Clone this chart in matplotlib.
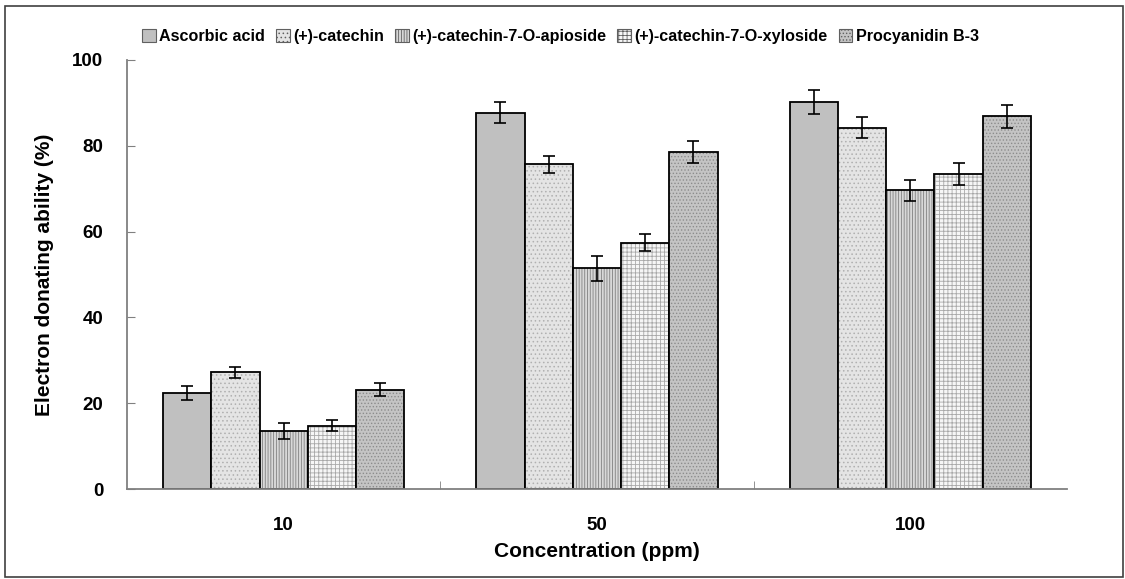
import numpy as np
import matplotlib
matplotlib.use("Agg")
import matplotlib.pyplot as plt
from matplotlib.patches import Rectangle

plt.rcParams["font.family"] = ["Liberation Sans", "DejaVu Sans"]
plt.rcParams["font.weight"] = "bold"
plt.rcParams["hatch.linewidth"] = 0.6

# electron donating ability (%) by concentration
concentrations = ["10", "50", "100"]
compounds = ["Ascorbic acid", "(+)-catechin", "(+)-catechin-7-O-apioside",
             "(+)-catechin-7-O-xyloside", "Procyanidin B-3"]
means = {
    "Ascorbic acid":             [22.3, 87.7, 90.3],
    "(+)-catechin":              [27.2, 75.7, 84.2],
    "(+)-catechin-7-O-apioside": [13.5, 51.4, 69.6],
    "(+)-catechin-7-O-xyloside": [14.8, 57.4, 73.5],
    "Procyanidin B-3":           [23.1, 78.6, 86.9],
}
errors = {
    "Ascorbic acid":             [1.6, 2.5, 2.8],
    "(+)-catechin":              [1.3, 2.0, 2.5],
    "(+)-catechin-7-O-apioside": [1.9, 3.0, 2.5],
    "(+)-catechin-7-O-xyloside": [1.3, 2.0, 2.6],
    "Procyanidin B-3":           [1.5, 2.6, 2.7],
}

styles = {
    "Ascorbic acid":             dict(facecolor="#c0c0c0", hatch=None, hc="#c0c0c0"),
    "(+)-catechin":              dict(facecolor="#e4e4e4", hatch="....", hc="#b0b0b0"),
    "(+)-catechin-7-O-apioside": dict(facecolor="#d8d8d8", hatch="||||||", hc="#808080"),
    "(+)-catechin-7-O-xyloside": dict(facecolor="#f6f6f6", hatch="++++", hc="#a8a8a8"),
    "Procyanidin B-3":           dict(facecolor="#c4c4c4", hatch=".....", hc="#8c8c8c"),
}

fig = plt.figure(figsize=(11.25, 5.79), dpi=100)
ax = fig.add_axes([0.1129, 0.1554, 0.8355, 0.741])

x = np.arange(len(concentrations))
w = 0.154
for i, name in enumerate(compounds):
    st = styles[name]
    pos = x - 2 * w + i * w
    bars = ax.bar(pos, means[name], w, facecolor=st["facecolor"], edgecolor="black",
                  linewidth=1.3, hatch=st["hatch"], label=name, zorder=2)
    for b in bars:
        b._hatch_color = matplotlib.colors.to_rgba(st["hc"])
    ax.errorbar(pos, means[name], yerr=errors[name], fmt="none", ecolor="black",
                elinewidth=1.2, capsize=4, capthick=1.2, zorder=3)

ax.set_xlim(-0.5, 2.5)
ax.set_ylim(0, 100)
ax.set_yticks(range(0, 101, 20))
ax.set_xticks(x)
ax.set_xticklabels(concentrations)
ax.set_xticks([0.5, 1.5], minor=True)
ax.tick_params(axis="x", which="major", length=0, pad=20, labelsize=13.5)
ax.tick_params(axis="x", which="minor", direction="in", length=6, color="#808080")
ax.tick_params(axis="y", direction="in", length=6, color="#808080", pad=17, labelsize=13.5)
for lab in ax.get_xticklabels() + ax.get_yticklabels():
    lab.set_fontweight("bold")

for side in ("top", "right"):
    ax.spines[side].set_visible(False)
for side in ("left", "bottom"):
    ax.spines[side].set_color("#808080")
    ax.spines[side].set_linewidth(1.3)

ax.set_xlabel("Concentration (ppm)", fontsize=15, fontweight="bold", labelpad=6)
ax.set_ylabel("Electron donating ability (%)", fontsize=15, fontweight="bold", labelpad=13)

leg = fig.legend(loc="center", bbox_to_anchor=(0.498, 0.937), ncol=5, frameon=False,
                 handlelength=0.85, handleheight=0.85, handletextpad=0.2,
                 columnspacing=0.7, prop={"weight": "bold", "size": 11.6})
for h in leg.legend_handles:
    h.set_edgecolor("#606060")
    h.set_linewidth(0.8)

# frame round the whole figure
fig.patches.append(Rectangle((0.004, 0.004), 0.994, 0.986, transform=fig.transFigure,
                             fill=False, edgecolor="#404040", linewidth=1.2))

fig.savefig("out.png", dpi=100)
